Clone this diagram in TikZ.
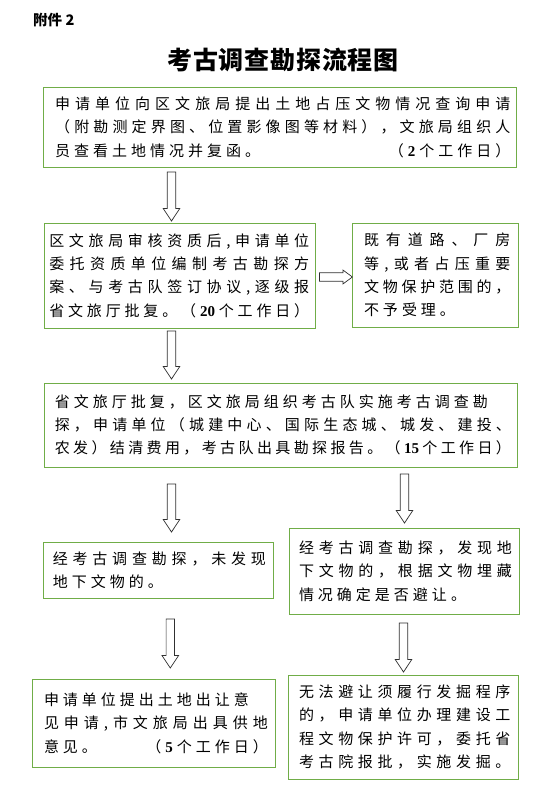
\documentclass[tikz,border=0pt]{standalone}
\usepackage{fontspec}
\usetikzlibrary{calc}
\newfontfamily\cjk{Noto Sans CJK SC}
\newfontfamily\numfont{Liberation Serif}
\definecolor{boxgreen}{HTML}{70AD47}
\definecolor{arrowgray}{HTML}{303030}
\newcount\cjkcc
\cjkcc="3000 \loop \XeTeXcharclass\cjkcc=1 \advance\cjkcc by 1 \ifnum\cjkcc<"A000 \repeat
\cjkcc="FF00 \loop \XeTeXcharclass\cjkcc=1 \advance\cjkcc by 1 \ifnum\cjkcc<"FFF0 \repeat
\newcommand\G{\hskip 4pt plus 1fil minus 2pt\relax}
\XeTeXinterchartoks 1 1 = {\G}
\XeTeXinterchartoks 1 0 = {\G}
\XeTeXinterchartoks 0 1 = {\G}
\newcommand\bodyfont{\cjk\fontsize{15}{23.4}\selectfont\XeTeXinterchartokenstate=1\relax}
\newcommand\J[3]{\noindent\leftskip=#1pt\relax\rightskip=#2pt\relax\parfillskip=#3\relax\linepenalty=1000\relax}
\newcommand\jb{\break}
\newcommand\rb{\hspace{0pt plus 1fill}\break}
\newcommand\gap{\hspace{0pt plus 1filll}}
\newcommand\nb[1]{\G{\numfont\bfseries #1}\G}
\newcommand\R{0pt plus 1fill}
\newcommand\F{0pt}
\newcommand\downblk[2]{\draw[blk] let \p1=(#1), \p2=(#2) in (\x1-4.2pt,\y1) -- (\x1+4.2pt,\y1) -- (\x1+4.2pt,\y2+12.5pt) -- (\x1+8.3pt,\y2+12.5pt) -- (\x1,\y2) -- (\x1-8.3pt,\y2+12.5pt) -- (\x1-4.2pt,\y2+12.5pt) -- cycle;}
\newcommand\rightblk[2]{\draw[blk] let \p1=(#1), \p2=(#2) in (\x1,\y1+4.3pt) -- (\x2-9.5pt,\y1+4.3pt) -- (\x2-9.5pt,\y1+7pt) -- (\x2,\y1) -- (\x2-9.5pt,\y1-7pt) -- (\x2-9.5pt,\y1-4.3pt) -- (\x1,\y1-4.3pt) -- cycle;}
\tikzset{
  box/.style={draw=boxgreen, line width=0.9pt, inner xsep=0pt, inner ysep=0pt, font=\bodyfont, text=black},
  blk/.style={draw=arrowgray, line width=0.7pt, fill=white, line join=miter},
}
\begin{document}
\begin{tikzpicture}[x=1pt,y=-1pt]
\useasboundingbox (0,0) rectangle (554,808);
\fill[white] (0,0) rectangle (554,808);

\node[anchor=west, inner sep=0pt, font=\cjk\bfseries\fontsize{14.5}{14.5}\selectfont] (att) at (33,20) {附件 2};
\node[inner sep=0pt, font=\cjk\bfseries\fontsize{25}{25}\selectfont] (title) at (283,60) {考\hspace{0.8pt}古\hspace{0.8pt}调\hspace{0.8pt}查\hspace{0.8pt}勘\hspace{0.8pt}探\hspace{0.8pt}流\hspace{0.8pt}程\hspace{0.8pt}图};

\node[box, minimum width=472.7pt, text width=472.7pt, minimum height=80pt] (b1) at (279.65,127) {\J{11.9}{5.6}{\R}申请单位向区文旅局提出土地占压文物情况查询申请\jb（附勘测定界图、位置影像图等材料），文旅局组织人\jb 员查看土地情况并复函。\gap（\nb{2}个工作日）\par};

\node[box, minimum width=271.2pt, text width=271.2pt, minimum height=105pt] (b2) at (179.9,275.5) {\J{5}{6.3}{\F}区文旅局审核资质后,申请单位\jb 委托资质单位编制考古勘探方\jb 案、与考古队签订协议,逐级报\jb 省文旅厅批复。（\nb{20}个工作日）\par};

\node[box, minimum width=165.6pt, text width=165.6pt, minimum height=104pt] (b3) at (435.2,275) {\J{11.6}{7.6}{\R}既有道路、厂房\jb 等,或者占压重要\jb 文物保护范围的，\jb 不予受理。\par};

\node[box, minimum width=472.7pt, text width=472.7pt, minimum height=84pt] (b4) at (280.65,425) {\J{10.5}{6}{\F}省文旅厅批复，区文旅局组织考古队实施考古调查勘\rb 探，申请单位（城建中心、国际生态城、城发、建投、\jb 农发）结清费用，考古队出具勘探报告。（\nb{15}个工作日）\par};

\node[box, minimum width=229.9pt, text width=229.9pt, minimum height=56pt] (b5) at (158.25,570) {\J{9.5}{7.2}{\R}经考古调查勘探，未发现\jb 地下文物的。\par};

\node[box, minimum width=230pt, text width=230pt, minimum height=86pt] (b6) at (404,571) {\J{10}{7}{\R}经考古调查勘探，发现地\jb 下文物的，根据文物埋藏\jb 情况确定是否避让。\par};

\node[box, minimum width=242.7pt, text width=242.7pt, minimum height=88pt] (b7) at (154.05,723) {\J{11.3}{7.6}{\R}申请单位提出土地出让意\rb 见申请,市文旅局出具供地\jb 意见。\gap（\nb{5}个工作日）\par};

\node[box, minimum width=230pt, text width=230pt, minimum height=104pt] (b8) at (403,727) {\J{11}{7.6}{\F}无法避让须履行发掘程序\jb 的，申请单位办理建设工\jb 程文物保护许可，委托省\jb 考古院报批，实施发掘。\par};

\coordinate (a1s) at (171.5,172);
\coordinate (a1e) at (171.5,221);
\coordinate (a2s) at (171.5,331);
\coordinate (a2e) at (171.5,379);
\coordinate (a3s) at (171.5,484);
\coordinate (a3e) at (171.5,532);
\coordinate (a4s) at (404.5,474);
\coordinate (a4e) at (404.5,523);
\coordinate (a5s) at (170.3,619);
\coordinate (a5e) at (170.3,668);
\coordinate (a6s) at (403.5,623);
\coordinate (a6e) at (403.5,672);
\coordinate (r1s) at (319.5,277);
\coordinate (r1e) at (352.4,277);

\downblk{a1s}{a1e}
\downblk{a2s}{a2e}
\downblk{a3s}{a3e}
\downblk{a4s}{a4e}
\downblk{a5s}{a5e}
\downblk{a6s}{a6e}
\rightblk{r1s}{r1e}
\end{tikzpicture}
\end{document}
